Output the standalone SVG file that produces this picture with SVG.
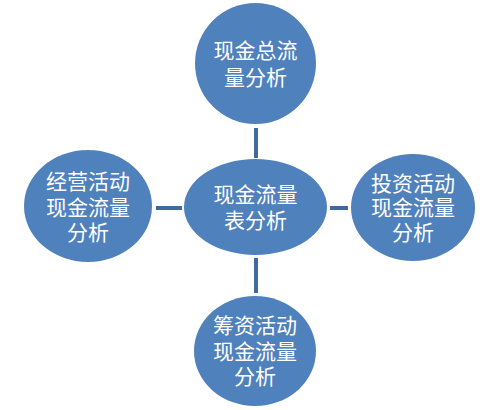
<svg xmlns="http://www.w3.org/2000/svg" width="501" height="410" viewBox="0 0 501 410">
<style>
.n{fill:#4F81BD;}
.t{fill:#FFFFFF;font-family:"Noto Sans CJK SC","Noto Sans",sans-serif;font-size:21px;text-anchor:middle;}
.c{stroke:#3E6A9F;stroke-width:4;fill:none;}
</style>
<rect width="501" height="410" fill="#FFFFFF"/>
<g id="connectors">
<line class="c" x1="256" y1="128" x2="256" y2="158"/>
<line class="c" x1="256" y1="258" x2="256" y2="293"/>
<line class="c" x1="156" y1="208" x2="182" y2="208"/>
<line class="c" x1="330" y1="208" x2="348" y2="208"/>
</g>
<g id="top">
<ellipse class="n" cx="255.5" cy="63.5" rx="60.5" ry="60.5"/>
<text class="t" x="255.5" y="58">现金总流</text>
<text class="t" x="255.5" y="85">量分析</text>
</g>
<g id="center">
<ellipse class="n" cx="255.5" cy="207" rx="71.5" ry="48"/>
<text class="t" x="255.5" y="202">现金流量</text>
<text class="t" x="255.5" y="228">表分析</text>
</g>
<g id="left">
<ellipse class="n" cx="88" cy="206" rx="64" ry="56"/>
<text class="t" x="88" y="189">经营活动</text>
<text class="t" x="88" y="215">现金流量</text>
<text class="t" x="88" y="240">分析</text>
</g>
<g id="right">
<ellipse class="n" cx="413" cy="207.5" rx="62" ry="53.5"/>
<text class="t" x="413" y="191">投资活动</text>
<text class="t" x="413" y="215">现金流量</text>
<text class="t" x="413" y="240">分析</text>
</g>
<g id="bottom">
<ellipse class="n" cx="255" cy="351" rx="61" ry="55"/>
<text class="t" x="255" y="333">筹资活动</text>
<text class="t" x="255" y="359">现金流量</text>
<text class="t" x="255" y="384">分析</text>
</g>
</svg>
